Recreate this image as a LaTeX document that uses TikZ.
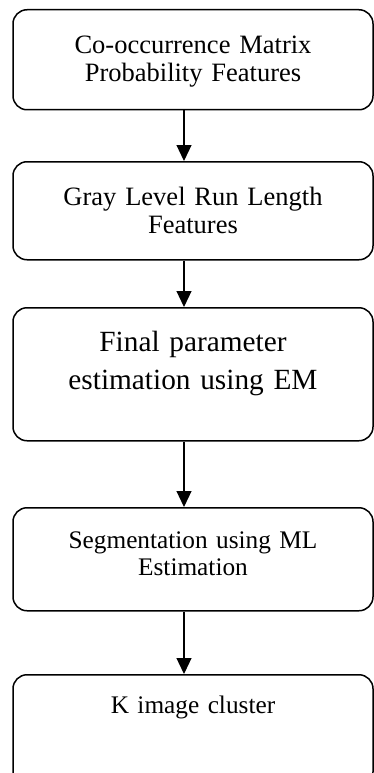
\documentclass[tikz,border=0pt]{standalone}
\usepackage{fontspec}
\setmainfont{Liberation Serif}
\usetikzlibrary{arrows.meta}

\begin{document}
\begin{tikzpicture}[x=1pt,y=-1pt,->,>={Triangle[length=16pt,width=15pt]},line width=1.2pt,
  main node/.style={draw,rounded corners=14pt,line width=1.5pt,anchor=north,align=center,text width=340pt,inner xsep=10pt,inner ysep=0pt},
  big font/.style={font=\fontsize{29.3}{38}\selectfont},
  mid font/.style={font=\fontsize{26.5}{27.5}\selectfont},
  small font/.style={font=\fontsize{25.3}{27}\selectfont}]
  \useasboundingbox (0,0) rectangle (374,773);
  \clip (0,0) rectangle (374,773);

  \node[main node,mid font,text height=44pt,text depth=56pt] (1) at (193,9) {Co-occurrence Matrix\\Probability Features};
  \node[main node,mid font,text height=44pt,text depth=54pt] (2) at (193,161) {Gray Level Run Length\\Features};
  \node[main node,big font,text height=44pt,text depth=89pt] (3) at (193,307) {Final parameter\\estimation using EM};
  \node[main node,small font,text height=41pt,text depth=62pt] (4) at (193,507) {Segmentation using ML\\Estimation};
  \node[main node,small font,text height=39pt,text depth=72pt] (5) at (193,674) {K image cluster};

\path
  ([xshift=-9pt]1.south) edge ([xshift=-9pt]2.north)
  ([xshift=-9pt]2.south) edge ([xshift=-9pt]3.north)
  ([xshift=-9pt]3.south) edge ([xshift=-9pt]4.north)
  ([xshift=-9pt]4.south) edge ([xshift=-9pt]5.north)
;
\end{tikzpicture}
\end{document}
